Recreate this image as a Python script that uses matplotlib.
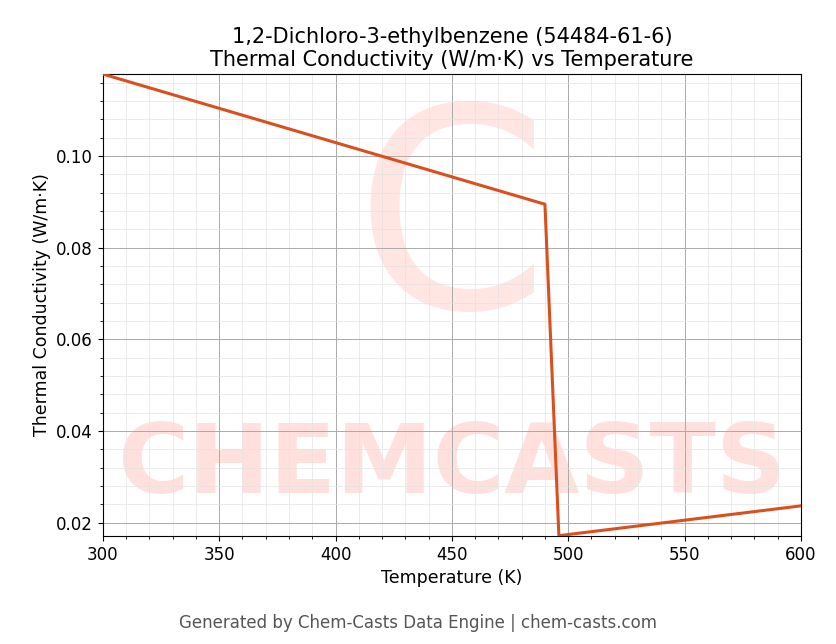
import matplotlib
matplotlib.use("Agg")
import matplotlib.pyplot as plt
from matplotlib.ticker import MultipleLocator

temps = [300, 490, 496, 600]
conductivity = [0.1179, 0.0895, 0.0172, 0.0237]

fig = plt.figure(figsize=(8.36, 6.44), dpi=100)
ax = fig.add_axes([0.123, 0.168, 0.835, 0.717])
ax.plot(temps, conductivity, color="#d9501e", lw=2.2, zorder=3)
ax.set_xlim(300, 600)
ax.set_ylim(0.01717, 0.1179)
ax.xaxis.set_minor_locator(MultipleLocator(10))
ax.yaxis.set_minor_locator(MultipleLocator(0.004))
ax.yaxis.set_major_locator(MultipleLocator(0.02))
ax.grid(which="major", color="#aaaaaa", lw=0.7)
ax.grid(which="minor", color="#e3e3e3", lw=0.5)
ax.tick_params(labelsize=12)
ax.set_xlabel("Temperature (K)", fontsize=12.5)
ax.set_ylabel("Thermal Conductivity (W/m·K)", fontsize=12.5)
ax.set_title("1,2-Dichloro-3-ethylbenzene (54484-61-6)\nThermal Conductivity (W/m·K) vs Temperature", fontsize=15)
ax.text(0.5, 0.15, "CHEMCASTS", transform=ax.transAxes, ha="center", va="center",
        fontsize=70, fontweight="bold", color="#ffe0dc", zorder=1, clip_on=True)
ax.text(0.5, 0.66, "C", transform=ax.transAxes, ha="center", va="center",
        fontsize=200, color="#ffe6e2", zorder=1, clip_on=True)
fig.text(0.5, 0.025, "Generated by Chem-Casts Data Engine | chem-casts.com", ha="center",
         fontsize=12, color="#555555")
fig.savefig("out.png", dpi=100)
